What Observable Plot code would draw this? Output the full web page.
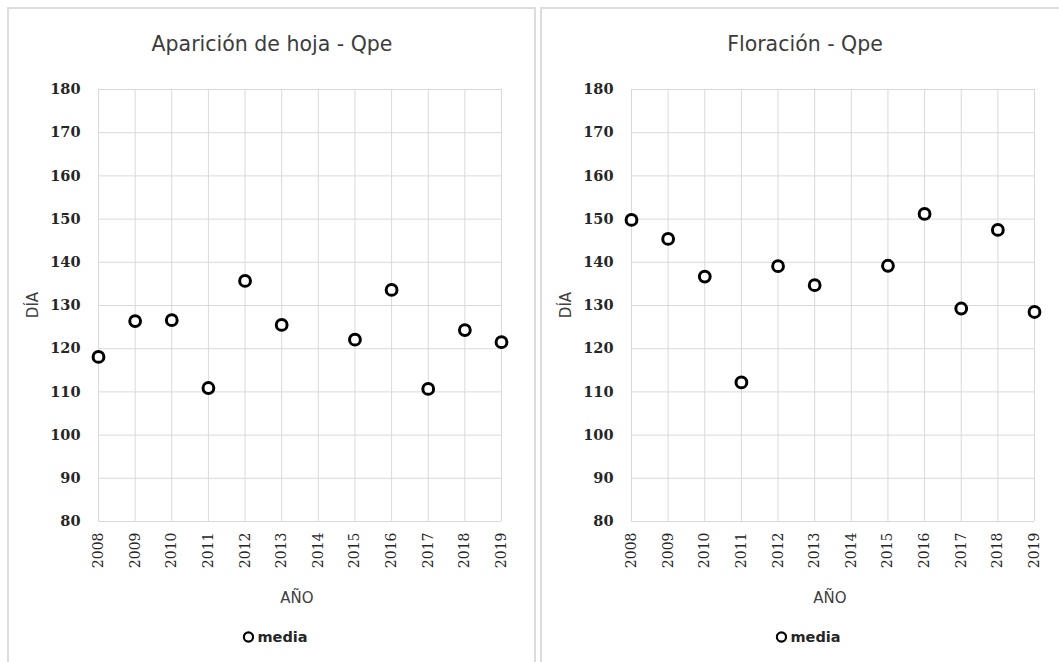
<!DOCTYPE html>
<html lang="es">
<head>
<meta charset="utf-8">
<title>Aparición de hoja y floración - Qpe</title>
<script src="https://cdn.jsdelivr.net/npm/d3@7"></script>
<script src="https://cdn.jsdelivr.net/npm/@observablehq/plot@0.6"></script>
<style>
  html, body { margin: 0; padding: 0; background: #fff; }
  body { width: 1059px; height: 662px; overflow: hidden; position: relative; }
  .panel { position: absolute; top: 7px; height: 700px; box-sizing: border-box;
           border: 2px solid #dcdcdc; background: #fff; }
  .chart { position: absolute; top: 8px; }
  .lbl { position: absolute; transform: translate(-50%, -50%); white-space: nowrap;
         font-family: "DejaVu Sans", sans-serif; color: #404040; }
  .title { font-size: 20.5px; color: #3c3c3c; }
  .axt { font-size: 15px; }
  .legend { font-size: 14.5px; font-weight: bold; color: #262626; display: flex; align-items: center; gap: 3px; }
  .legend svg { display: block; }
</style>
</head>
<body>
<script>
// Years shown on the axis (2014 has no observation)
const yearTicks = [2008, 2009, 2010, 2011, 2012, 2013, 2014, 2015, 2016, 2017, 2018, 2019];
const dayTicks = [80, 90, 100, 110, 120, 130, 140, 150, 160, 170, 180];

// Observed years
const years = [2008, 2009, 2010, 2011, 2012, 2013, 2015, 2016, 2017, 2018, 2019];
// Mean day of year — leaf appearance
const leafOut = [118.1, 126.4, 126.6, 110.9, 135.7, 125.5, 122.1, 133.6, 110.7, 124.3, 121.5];
// Mean day of year — flowering
const flowering = [149.8, 145.4, 136.7, 112.2, 139.1, 134.7, 139.2, 151.2, 129.3, 147.5, 128.5];

const panels = [
  {title: "Aparición de hoja - Qpe", values: leafOut, left: 8},
  {title: "Floración - Qpe", values: flowering, left: 541}
];

function label(text, x, y, cls, rotate) {
  const d = document.createElement("div");
  d.className = "lbl " + cls;
  d.textContent = text;
  d.style.left = x + "px";
  d.style.top = y + "px";
  if (rotate) d.style.transform = "translate(-50%, -50%) rotate(" + rotate + "deg)";
  document.body.appendChild(d);
  return d;
}

function scatter(values) {
  const rows = years.map((year, i) => ({year, value: values[i]}));
  return Plot.plot({
    width: 528,
    height: 610,
    marginLeft: 90,
    marginRight: 35,
    marginTop: 81,
    marginBottom: 97,
    x: {type: "linear", domain: [2008, 2019]},
    y: {type: "linear", domain: [80, 180]},
    style: {background: "transparent", overflow: "visible"},
    marks: [
      Plot.gridX(yearTicks, {stroke: "#d9d9d9", strokeOpacity: 1, strokeWidth: 1}),
      Plot.gridY(dayTicks, {stroke: "#d9d9d9", strokeOpacity: 1, strokeWidth: 1}),
      Plot.axisY(dayTicks, {
        tickSize: 0, tickPadding: 18, label: null,
        fontFamily: "DejaVu Serif", fontSize: 14.5, fontWeight: "bold", fill: "#262626"
      }),
      Plot.axisX(yearTicks, {
        tickSize: 0, tickPadding: 11, tickRotate: -90, label: null,
        tickFormat: d => String(d),
        fontFamily: "DejaVu Serif", fontSize: 14, fill: "#262626"
      }),
      Plot.dot(rows, {x: "year", y: "value", r: 5.4, stroke: "#000", strokeWidth: 3, fill: "#fff"})
    ]
  });
}

for (const p of panels) {
  const frame = document.createElement("div");
  frame.className = "panel";
  frame.style.left = (p.left - 1) + "px";
  frame.style.width = "529px";
  document.body.appendChild(frame);

  const svg = scatter(p.values);
  svg.classList.add("chart");
  svg.style.left = p.left + "px";
  document.body.appendChild(svg);

  const off = p.left - 8;
  label(p.title, 272 + off, 44, "title");
  label("DÍA", 33 + off, 305, "axt", -90);
  label("AÑO", 297 + off, 598, "axt");

  const lg = label("", 275 + off, 637, "legend");
  lg.innerHTML = '<svg width="12" height="12"><circle cx="6" cy="6" r="4.6" fill="#fff" stroke="#000" stroke-width="2.2"/></svg><span>media</span>';
}
</script>
</body>
</html>
